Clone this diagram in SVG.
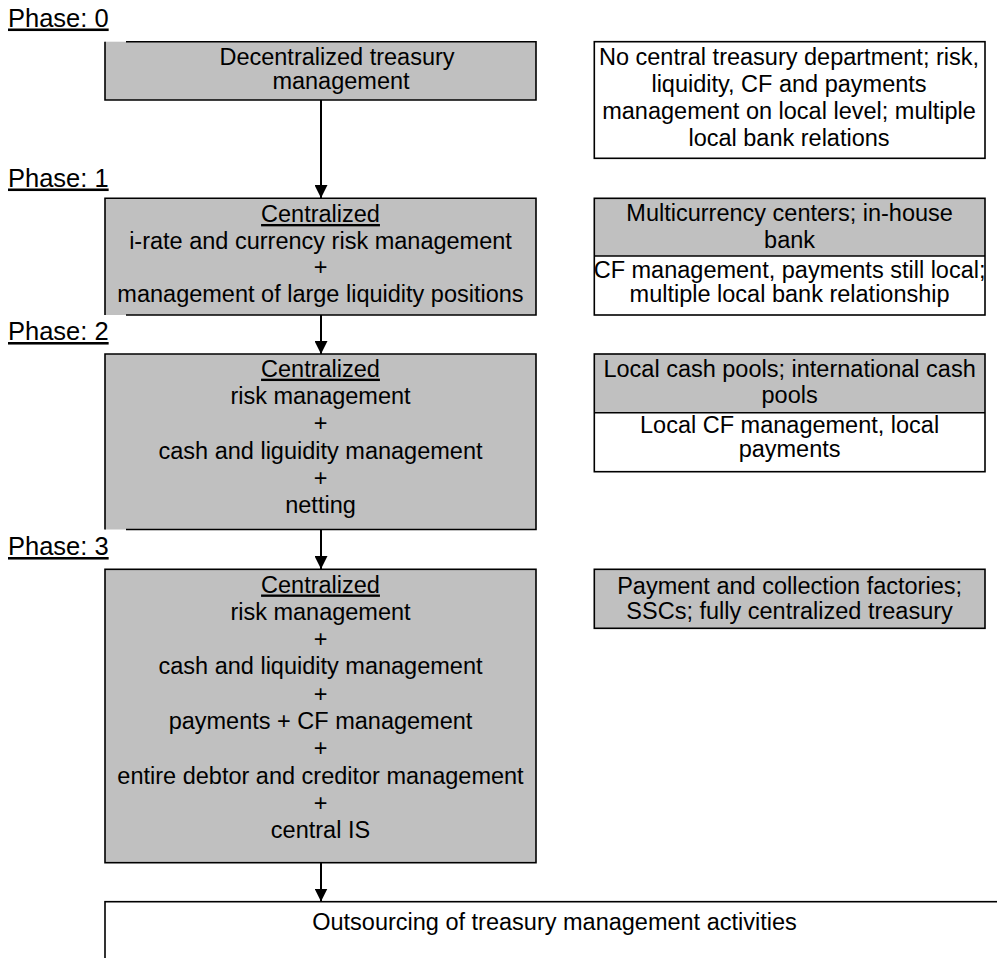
<svg xmlns="http://www.w3.org/2000/svg" width="997" height="958" viewBox="0 0 997 958">
<defs>
<style>
text{font-family:"Liberation Sans",Arial,sans-serif;fill:#000}
.t{font-size:23.5px;text-anchor:middle}
.ph{font-size:25.5px;text-decoration:underline}
.u{text-decoration:underline}
.g{fill:#c0c0c0;stroke:none}
.w{fill:#fff;stroke:none}
.b{fill:none;stroke:#000;stroke-width:1.6}
.c{stroke:#000;stroke-width:2;fill:none}
</style>
<marker id="ah" markerUnits="userSpaceOnUse" markerWidth="13" markerHeight="13" refX="13" refY="6.5" orient="auto">
<path d="M0,0 L13,6.5 L0,13 z" fill="#000"/>
</marker>
</defs>
<rect width="997" height="958" fill="#fff"/>

<g id="phase-labels">
<text class="ph" x="8" y="26.5">Phase: 0</text>
<text class="ph" x="8" y="186.5">Phase: 1</text>
<text class="ph" x="8" y="340">Phase: 2</text>
<text class="ph" x="8" y="555">Phase: 3</text>
</g>

<g id="connectors">
<line class="c" x1="321" y1="100" x2="321" y2="198" marker-end="url(#ah)"/>
<line class="c" x1="321" y1="315" x2="321" y2="354" marker-end="url(#ah)"/>
<line class="c" x1="321" y1="529.5" x2="321" y2="569" marker-end="url(#ah)"/>
<line class="c" x1="321" y1="862.7" x2="321" y2="901.5" marker-end="url(#ah)"/>
</g>

<g id="phase0">
<rect class="g" x="105" y="41.7" width="431" height="58.3"/>
<path class="b" d="M126,41.7 H536 V100 H105 V41.7"/>
<text class="t" x="337" y="64.5">Decentralized treasury</text>
<text class="t" x="341" y="89">management</text>
</g>

<g id="phase0-note">
<rect class="w" x="594.3" y="41.7" width="390.7" height="116.6"/>
<rect class="b" x="594.3" y="41.7" width="390.7" height="116.6"/>
<text class="t" x="789" y="65">No central treasury department; risk,</text>
<text class="t" x="789" y="92">liquidity, CF and payments</text>
<text class="t" x="789" y="119">management on local level; multiple</text>
<text class="t" x="789" y="145.5">local bank relations</text>
</g>

<g id="phase1">
<rect class="g" x="105" y="198.3" width="431" height="116.7"/>
<path class="b" d="M105,315 V198.3 H536 V315 H126"/>
<text class="t" x="320.5" y="222"><tspan class="u">Centralized</tspan></text>
<text class="t" x="320.5" y="248.7">i-rate and currency risk management</text>
<text class="t" x="320.5" y="275.3">+</text>
<text class="t" x="320.5" y="302">management of large liquidity positions</text>
</g>

<g id="phase1-note">
<rect class="g" x="594.3" y="198.3" width="390.7" height="57.7"/>
<rect class="w" x="594.3" y="256" width="390.7" height="59"/>
<rect class="b" x="594.3" y="198.3" width="390.7" height="116.7"/>
<line class="b" x1="594.3" y1="256" x2="985" y2="256"/>
<text class="t" x="789.6" y="221">Multicurrency centers; in-house</text>
<text class="t" x="789.6" y="248">bank</text>
<text class="t" x="789.6" y="277.5">CF management, payments still local;</text>
<text class="t" x="789.6" y="301.5">multiple local bank relationship</text>
</g>

<g id="phase2">
<rect class="g" x="105" y="354" width="431" height="175.5"/>
<path class="b" d="M105,529.5 V354 H536 V529.5 H126"/>
<text class="t" x="320.5" y="376.7"><tspan class="u">Centralized</tspan></text>
<text class="t" x="320.5" y="404">risk management</text>
<text class="t" x="320.5" y="431.3">+</text>
<text class="t" x="320.5" y="458.6">cash and liguidity management</text>
<text class="t" x="320.5" y="485.9">+</text>
<text class="t" x="320.5" y="513.2">netting</text>
</g>

<g id="phase2-note">
<rect class="g" x="594.3" y="354" width="390.7" height="58.7"/>
<rect class="w" x="594.3" y="412.7" width="390.7" height="59"/>
<rect class="b" x="594.3" y="354" width="390.7" height="117.7"/>
<line class="b" x1="594.3" y1="412.7" x2="985" y2="412.7"/>
<text class="t" x="789.6" y="376.7">Local cash pools; international cash</text>
<text class="t" x="789.6" y="403.3">pools</text>
<text class="t" x="789.6" y="433.3">Local CF management, local</text>
<text class="t" x="789.6" y="457">payments</text>
</g>

<g id="phase3">
<rect class="g" x="105" y="569.3" width="431" height="293.4"/>
<rect class="b" x="105" y="569.3" width="431" height="293.4"/>
<text class="t" x="320.5" y="592.5"><tspan class="u">Centralized</tspan></text>
<text class="t" x="320.5" y="619.8">risk management</text>
<text class="t" x="320.5" y="647.1">+</text>
<text class="t" x="320.5" y="674.4">cash and liquidity management</text>
<text class="t" x="320.5" y="701.7">+</text>
<text class="t" x="320.5" y="729">payments + CF management</text>
<text class="t" x="320.5" y="756.3">+</text>
<text class="t" x="320.5" y="783.6">entire debtor and creditor management</text>
<text class="t" x="320.5" y="810.9">+</text>
<text class="t" x="320.5" y="838.2">central IS</text>
</g>

<g id="phase3-note">
<rect class="g" x="594.3" y="569.3" width="390.7" height="59"/>
<rect class="b" x="594.3" y="569.3" width="390.7" height="59"/>
<text class="t" x="789.6" y="594">Payment and collection factories;</text>
<text class="t" x="789.6" y="618.5">SSCs; fully centralized treasury</text>
</g>

<g id="outsourcing">
<rect class="w" x="105" y="901.7" width="910" height="100"/>
<rect class="b" x="105" y="901.7" width="910" height="100"/>
<text class="t" x="554.5" y="930">Outsourcing of treasury management activities</text>
</g>
</svg>
